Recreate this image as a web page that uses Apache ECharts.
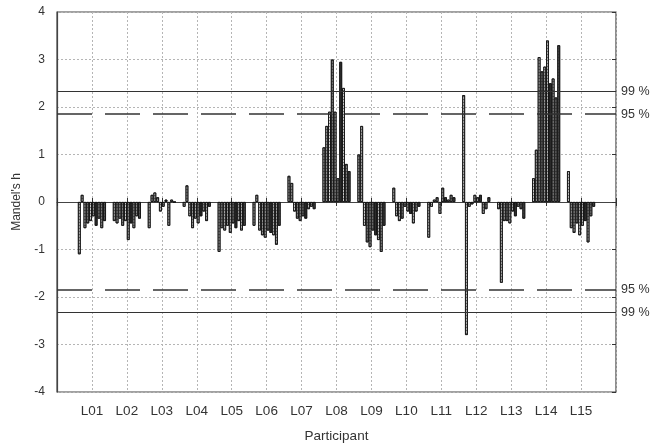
<!DOCTYPE html>
<html><head><meta charset="utf-8">
<script src="https://cdn.jsdelivr.net/npm/echarts@6/dist/echarts.min.js"></script>
<style>html,body{margin:0;padding:0;background:#fff}#c{width:656px;height:445px}</style>
</head><body><div id="c"></div>
<script>
const participants = ['', 'L01','L02','L03','L04','L05','L06','L07','L08','L09','L10','L11','L12','L13','L14','L15', ''];
const yTicks = [-4,-3,-2,-1,0,1,2,3,4];
const limit99 = 2.33;
const limit95 = 1.85;
// values per participant (10 materials each)
const L01 = [-1.1, 0.15, -0.55, -0.45, -0.4, -0.3, -0.5, -0.35, -0.55, -0.4];
const L02 = [-0.4, -0.45, -0.35, -0.5, -0.4, -0.8, -0.45, -0.55, -0.3, -0.35];
const L03 = [-0.55, 0.15, 0.2, 0.1, -0.2, -0.1, 0.05, -0.5, 0.05, 0.0];
const L04 = [-0.1, 0.35, -0.3, -0.55, -0.35, -0.45, -0.3, -0.2, -0.4, -0.1];
const L05 = [-1.05, -0.55, -0.6, -0.5, -0.65, -0.45, -0.55, -0.4, -0.6, -0.5];
const L06 = [-0.5, 0.15, -0.6, -0.7, -0.75, -0.6, -0.65, -0.7, -0.9, -0.5];
const L07 = [0.55, 0.4, -0.2, -0.35, -0.4, -0.3, -0.35, -0.15, -0.1, -0.15];
const L08 = [1.15, 1.6, 1.9, 3.0, 1.9, 0.5, 2.95, 2.4, 0.8, 0.65];
const L09 = [1.0, 1.6, -0.5, -0.85, -0.95, -0.6, -0.7, -0.8, -1.05, -0.5];
const L10 = [0.3, -0.3, -0.4, -0.35, -0.1, -0.2, -0.25, -0.45, -0.2, -0.1];
const L11 = [-0.75, -0.1, 0.05, 0.1, -0.25, 0.3, 0.1, 0.05, 0.15, 0.1];
const L12 = [2.25, -2.8, -0.1, -0.05, 0.15, 0.1, 0.15, -0.25, -0.15, 0.1];
const L13 = [-0.15, -1.7, -0.4, -0.4, -0.45, -0.2, -0.3, -0.1, -0.15, -0.35];
const L14 = [0.5, 1.1, 3.05, 2.75, 2.85, 3.4, 2.5, 2.6, 2.2, 3.3];
const L15 = [0.65, -0.55, -0.65, -0.45, -0.7, -0.5, -0.4, -0.85, -0.3, -0.1];
const groups = [L01,L02,L03,L04,L05,L06,L07,L08,L09,L10,L11,L12,L13,L14,L15];
const fills = ['#c8c8c8','#bdbdbd','#d8d8d8','#9a9a9a','#cfcfcf','#b0b0b0','#333333','#c4c4c4','#a8a8a8','#555555'];

const font = 'Liberation Sans, Arial, sans-serif';
const series = [];
for (let s = 0; s < 10; s++) {
  const data = [null];
  groups.forEach(g => data.push(g[s]));
  data.push(null);
  series.push({
    type: 'bar', name: 'm' + (s+1), data: data, barWidth: 2.8, barGap: '0%',
    itemStyle: { color: fills[s], borderColor: '#111', borderWidth: 0.8,
      decal: { symbol: 'rect', symbolSize: 1, dashArrayX: [[1,0]], dashArrayY: [1,2], color: 'rgba(50,50,50,0.6)', rotation: 0 } },
    animation: false, silent: true
  });
}
const lineStyleSolid = { color: '#333', width: 1.2, type: 'solid' };
const lineStyleDash = { color: '#333', width: 1.6, type: [35, 13] };
series[0].markLine = {
  symbol: 'none', silent: true, animation: false,
  label: { position: 'end', formatter: p => p.name, color: '#333', fontFamily: font, fontSize: 12.5, distance: 5 },
  data: [
    { yAxis: limit99, name: '99 %', lineStyle: lineStyleSolid },
    { yAxis: limit95, name: '95 %', lineStyle: lineStyleDash },
    { yAxis: -limit95, name: '95 %', lineStyle: lineStyleDash },
    { yAxis: -limit99, name: '99 %', lineStyle: lineStyleSolid }
  ]
};

const chart = echarts.init(document.getElementById('c'), null, { renderer: 'canvas' });
chart.setOption({
  backgroundColor: '#fff',
  animation: false,
  grid: { left: 57, right: 40, top: 12, bottom: 53, show: true, borderColor: '#444', borderWidth: 1.2, backgroundColor: 'transparent', containLabel: false, outerBoundsMode: 'none' },
  xAxis: [{
    type: 'category', data: participants, boundaryGap: false, position: 'bottom',
    name: 'Participant', nameLocation: 'middle', nameGap: 37,
    nameTextStyle: { fontFamily: font, fontSize: 13.5, color: '#333' },
    axisLine: { show: true, lineStyle: { color: '#444', width: 1.2 } },
    axisTick: { show: true, inside: true, length: 4, lineStyle: { color: '#333' }, interval: 0 },
    axisLabel: { fontFamily: font, fontSize: 13.5, color: '#333', margin: 12, interval: 0 },
    splitLine: { show: true, interval: 0, lineStyle: { color: '#b5b5b5', type: [2, 2], width: 1 } }
  }, {
    type: 'category', data: participants, boundaryGap: false, position: 'top',
    axisLine: { show: false }, axisLabel: { show: false },
    axisTick: { show: true, inside: true, length: 4, lineStyle: { color: '#333' }, interval: 0 },
    splitLine: { show: false }
  }],
  yAxis: [{
    type: 'value', min: -4, max: 4, interval: 1,
    name: "Mandel's h", nameLocation: 'middle', nameGap: 34, nameRotate: 90,
    nameTextStyle: { fontFamily: font, fontSize: 12, color: '#333' },
    axisLine: { show: true, lineStyle: { color: '#444', width: 1.2 } },
    axisTick: { show: false },
    axisLabel: { fontFamily: font, fontSize: 12, color: '#333', margin: 12, formatter: v => yTicks.includes(v) ? String(v) : '' },
    splitLine: { show: true, lineStyle: { color: '#b5b5b5', type: [2, 2], width: 1 } }
  }, {
    type: 'value', min: -4, max: 4, interval: 1, position: 'right',
    axisLine: { show: false }, axisLabel: { show: false },
    axisTick: { show: true, inside: true, length: 4, lineStyle: { color: '#333' } },
    splitLine: { show: false }
  }],
  series: series
});
</script></body></html>
